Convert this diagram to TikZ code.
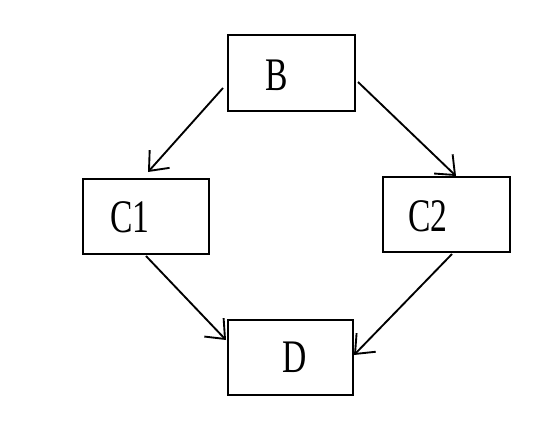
\documentclass[tikz,border=0pt]{standalone}
\usepackage{fontspec}
\setmainfont{Liberation Serif}[FakeStretch=0.72]
\usetikzlibrary{arrows.meta}
\begin{document}
\begin{tikzpicture}[x=0.75pt,y=-0.75pt,
  box/.style={draw,line width=1.5pt,inner sep=0pt},
  lbl/.style={inner sep=0pt,font=\fontsize{35}{40}\selectfont},
  conn/.style={line width=1.4pt,-{Straight Barb[length=12pt,width=20pt,line width=1.4pt]}}]
\useasboundingbox (0,0) rectangle (543,421);
\node[box,minimum width=127*0.75pt,minimum height=76*0.75pt] (B) at (291.5,73) {};
\node[box,minimum width=126*0.75pt,minimum height=75*0.75pt] (C1) at (146,216.5) {};
\node[box,minimum width=127*0.75pt,minimum height=75*0.75pt] (C2) at (446.5,214.5) {};
\node[box,minimum width=125*0.75pt,minimum height=75*0.75pt] (D) at (290.5,357.5) {};
\node[lbl] (tB) at (277,75) {B};
\node[lbl] (tC1) at (130,217) {C1};
\node[lbl] (tC2) at (428,216) {C2};
\node[lbl] (tD) at (295,357) {D};
\coordinate (b1) at (223,88);
\coordinate (c1t) at (148,172);
\coordinate (b2) at (358,82);
\coordinate (c2t) at (456,176);
\coordinate (c1b) at (146,256);
\coordinate (d1) at (226,340);
\coordinate (c2b) at (452,254);
\coordinate (d2) at (354,355);
\draw[conn] (b1) -- (c1t);
\draw[conn] (b2) -- (c2t);
\draw[conn] (c1b) -- (d1);
\draw[conn] (c2b) -- (d2);
\end{tikzpicture}
\end{document}
